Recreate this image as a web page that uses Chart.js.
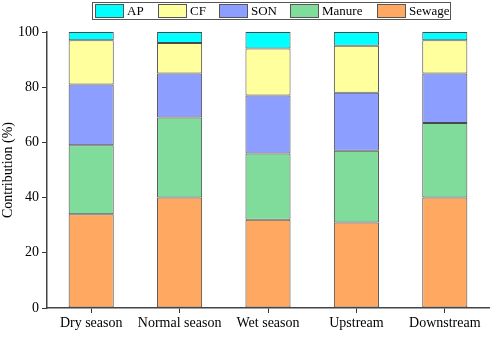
<!DOCTYPE html>
<html>
<head>
<meta charset="utf-8">
<script src="https://cdn.jsdelivr.net/npm/chart.js@4/dist/chart.umd.min.js"></script>
<style>
  html, body { margin: 0; padding: 0; background: #fff; }
  #wrap { width: 491px; height: 337px; }
</style>
</head>
<body>
<div id="wrap"><canvas id="contrib" width="491" height="337"></canvas></div>
<script>
// categories and source contributions (%), bottom to top of each stack
const categories = ['Dry season', 'Normal season', 'Wet season', 'Upstream', 'Downstream'];
const sewage = [34, 40, 32, 31, 40];
const manure = [25, 29, 24, 26, 27];
const son = [22, 16, 21, 21, 18];
const cf = [16, 11, 17, 17, 12];
const ap = [3, 4, 6, 5, 3];
const yTicks = [0, 20, 40, 60, 80, 100];

const FONT = '"Liberation Serif", "Times New Roman", serif';

// legend drawn by hand: boxed row, AP first
const boxLegend = {
    id: 'boxLegend',
    afterDraw(chart) {
        const c = chart.ctx;
        c.save();
        c.strokeStyle = '#555';
        c.lineWidth = 1;
        c.strokeRect(92.5, 2.5, 358, 17);
        const swatchX = [95, 158, 219, 290, 377];
        const sets = chart.data.datasets.slice().reverse();
        c.font = '13px ' + FONT;
        c.textBaseline = 'middle';
        sets.forEach((ds, i) => {
            c.fillStyle = ds.backgroundColor;
            c.fillRect(swatchX[i], 4, 28, 13);
            c.strokeStyle = '#555';
            c.strokeRect(swatchX[i] + 0.5, 4.5, 28, 13);
            c.fillStyle = '#000';
            c.fillText(ds.label, swatchX[i] + 32, 11.5);
        });
        c.restore();
    }
};

function mk(label, data, color) {
    return {
        label: label,
        data: data,
        backgroundColor: color,
        borderColor: '#4a4a4a',
        borderWidth: 1,
        borderSkipped: false,
        barPercentage: 0.51,
        categoryPercentage: 1.0
    };
}

const chart = new Chart(document.getElementById('contrib').getContext('2d'), {
    type: 'bar',
    data: {
        labels: categories,
        datasets: [
            mk('Sewage', sewage, '#FFA862'),
            mk('Manure', manure, '#80DC9A'),
            mk('SON', son, '#8C9EFF'),
            mk('CF', cf, '#FFFF9E'),
            mk('AP', ap, '#00FFFF')
        ]
    },
    options: {
        responsive: false,
        animation: false,
        layout: { padding: { top: 32, right: 2, left: 0, bottom: 0 } },
        plugins: {
            legend: { display: false },
            tooltip: { enabled: false }
        },
        scales: {
            x: {
                stacked: true,
                grid: { drawOnChartArea: false, drawTicks: true, tickLength: 5, color: '#333', offset: false },
                border: { display: true, color: '#444', width: 1.5 },
                ticks: {
                    color: '#000',
                    font: { family: FONT, size: 14 },
                    padding: 2,
                    maxRotation: 0,
                    minRotation: 0,
                    autoSkip: false
                },
                afterFit(scale) { scale.height = 29; }
            },
            y: {
                stacked: true,
                min: 0,
                max: 100,
                afterBuildTicks(scale) { scale.ticks = yTicks.map(v => ({ value: v })); },
                grid: { drawOnChartArea: false, drawTicks: true, tickLength: 5, color: '#333' },
                border: { display: true, color: '#444', width: 1.5 },
                ticks: { color: '#000', font: { family: FONT, size: 14 }, padding: 3 },
                title: {
                    display: true,
                    text: 'Contribution (%)',
                    color: '#000',
                    font: { family: FONT, size: 14 },
                    padding: { top: 0, bottom: 2 }
                },
                afterFit(scale) { scale.width = 47; }
            }
        }
    },
    plugins: [boxLegend]
});
</script>
</body>
</html>
